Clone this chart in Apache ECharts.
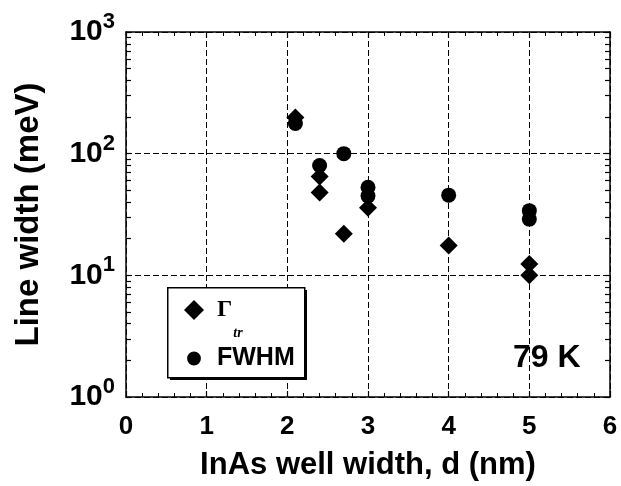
<!DOCTYPE html>
<html>
<head>
<meta charset="utf-8">
<script src="https://cdn.jsdelivr.net/npm/echarts@6/dist/echarts.min.js"></script>
<style>
html,body{margin:0;padding:0;background:#fff;}
#c{width:621px;height:486px;}
</style>
</head>
<body>
<div id="c"></div>
<script>
// ---- data ----
const gammaWidth = [2.1, 2.4, 2.4, 2.7, 3.0, 4.0, 5.0, 5.0];
const gammaValue = [198, 65, 48, 22, 36, 17.6, 12.4, 10.0];
const fwhmWidth  = [2.1, 2.4, 2.7, 3.0, 3.0, 4.0, 5.0, 5.0];
const fwhmValue  = [177, 80, 100, 53, 45, 45.6, 34, 29];
const xRange = [0, 6];
const yRange = [1, 1000];
const seriesNames = ['Γtr', 'FWHM'];
const tempLabel = '79 K';
const xTitle = 'InAs well width, d (nm)';
const yTitle = 'Line width (meV)';

const SANS = "'Liberation Sans', Arial, Helvetica, sans-serif";
const SERIF = "'Liberation Serif', 'Times New Roman', serif";

// log minor tick positions (1..9 per decade)
const logTicks = [];
for (let d = yRange[0]; d < yRange[1]; d *= 10) {
  for (let k = 1; k <= 9; k++) logTicks.push(d * k);
}
logTicks.push(yRange[1]);

const chart = echarts.init(document.getElementById('c'), null, {renderer: 'canvas'});

const axisLineStyle = {color: '#000', width: 1.5};
const tickStyle = {color: '#000', width: 1.2};

const option = {
  backgroundColor: '#fff',
  animation: false,
  grid: {left: 126, right: 11, top: 32, bottom: 86},
  xAxis: [
    {
      type: 'value', min: xRange[0], max: xRange[1], interval: 1, position: 'bottom',
      axisLine: {show: true, onZero: false, lineStyle: axisLineStyle},
      axisTick: {show: true, inside: true, length: 6, lineStyle: tickStyle},
      minorTick: {show: true, splitNumber: 5, length: 4, lineStyle: {color: '#000', width: 1}},
      splitLine: {show: true, lineStyle: {color: '#000', width: 1, type: [6, 3]}},
      axisLabel: {margin: 17, color: '#000', fontSize: 26, fontWeight: 'bold', fontFamily: SANS},
      name: xTitle, nameLocation: 'middle', nameGap: 53,
      nameTextStyle: {color: '#000', fontSize: 31, fontWeight: 'bold', fontFamily: SANS}
    },
    {
      type: 'value', min: xRange[0], max: xRange[1], interval: 1, position: 'top',
      axisLine: {show: true, onZero: false, lineStyle: axisLineStyle},
      axisTick: {show: true, inside: true, length: 6, lineStyle: tickStyle},
      minorTick: {show: true, splitNumber: 5, length: 4, lineStyle: {color: '#000', width: 1}},
      splitLine: {show: false},
      axisLabel: {show: false}
    }
  ],
  yAxis: [
    {
      type: 'log', logBase: 10, min: yRange[0], max: yRange[1], position: 'left',
      axisLine: {show: true, onZero: false, lineStyle: axisLineStyle},
      axisTick: {show: false},
      splitLine: {show: true, lineStyle: {color: '#000', width: 1, type: [6, 3]}},
      axisLabel: {
        margin: 11, color: '#000',
        formatter: function (v) {
          const e = Math.round(Math.log10(v));
          return '{b|10}{p|' + e + '}';
        },
        rich: {
          b: {fontSize: 30, fontWeight: 'bold', fontFamily: SANS, color: '#000'},
          p: {fontSize: 22, fontWeight: 'bold', fontFamily: SANS, color: '#000', padding: [0, 0, 20, 0]}
        }
      },
      name: yTitle, nameLocation: 'middle', nameGap: 81,
      nameTextStyle: {color: '#000', fontSize: 33, fontWeight: 'bold', fontFamily: SANS}
    },
    {
      type: 'log', logBase: 10, min: yRange[0], max: yRange[1], position: 'left',
      axisLine: {show: false},
      axisTick: {show: true, inside: true, length: 5, customValues: logTicks, lineStyle: tickStyle},
      splitLine: {show: false},
      axisLabel: {show: false}
    },
    {
      type: 'log', logBase: 10, min: yRange[0], max: yRange[1], position: 'right',
      axisLine: {show: true, onZero: false, lineStyle: axisLineStyle},
      axisTick: {show: true, inside: true, length: 5, customValues: logTicks, lineStyle: tickStyle},
      splitLine: {show: false},
      axisLabel: {show: false}
    }
  ],
  legend: {
    orient: 'vertical', left: 184, top: 280, padding: 0, itemGap: 6,
    itemWidth: 20, itemHeight: 20, selectedMode: false, z: 20,
    data: [
      {name: seriesNames[0], icon: 'path://M0,-1L1,0L0,1L-1,0Z'},
      {name: seriesNames[1], icon: 'path://M-1.45,-1.45M1.45,1.45M0,-1A1,1,0,1,1,0,1A1,1,0,1,1,0,-1Z'}
    ],
    formatter: function (name) {
      if (name === seriesNames[0]) return '{g|Γ}{s|tr}{z| }';
      return '{f|' + name + '}';
    },
    textStyle: {
      color: '#000',
      rich: {
        g: {fontFamily: SERIF, fontSize: 24, fontWeight: 'bold', color: '#000', padding: [0, 0, 0, 8]},
        s: {fontFamily: SERIF, fontSize: 14, fontStyle: 'italic', fontWeight: 'bold', color: '#000', padding: [46, 0, 0, 1]},
        z: {fontSize: 14, color: 'rgba(0,0,0,0)', padding: [0, 0, 46, 0]},
        f: {fontFamily: SANS, fontSize: 25, fontWeight: 'bold', color: '#000', lineHeight: 28, padding: [0, 0, 0, 8]}
      }
    }
  },
  graphic: [
    {
      type: 'rect', left: 170, top: 290, z: 9,
      shape: {width: 137, height: 90},
      style: {fill: '#000'}
    },
    {
      type: 'rect', left: 167, top: 287, z: 10,
      shape: {width: 137, height: 90},
      style: {fill: '#fff', stroke: '#000', lineWidth: 1.5}
    },
    {
      type: 'text', left: 513, top: 342, z: 10,
      style: {text: tempLabel, font: 'bold 32px ' + SANS, fill: '#000'}
    }
  ],
  series: [
    {
      type: 'scatter', name: seriesNames[0], symbol: 'diamond', symbolSize: 18,
      xAxisIndex: 0, yAxisIndex: 0, z: 3,
      itemStyle: {color: '#000', opacity: 1},
      data: gammaWidth.map((x, i) => [x, gammaValue[i]])
    },
    {
      type: 'scatter', name: seriesNames[1], symbol: 'circle', symbolSize: 15,
      xAxisIndex: 0, yAxisIndex: 0, z: 3,
      itemStyle: {color: '#000', opacity: 1},
      data: fwhmWidth.map((x, i) => [x, fwhmValue[i]])
    }
  ]
};
chart.setOption(option);
</script>
</body>
</html>
